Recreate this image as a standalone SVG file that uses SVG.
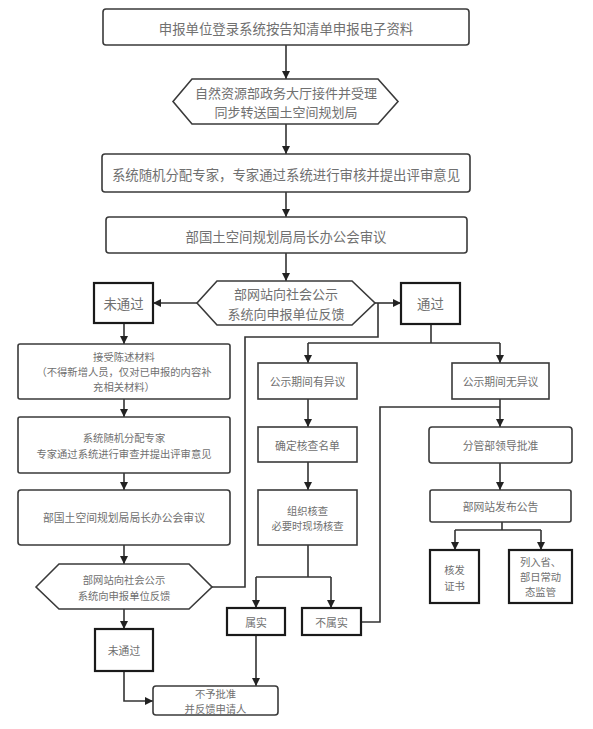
<svg xmlns="http://www.w3.org/2000/svg" width="593" height="729" viewBox="0 0 593 729">
<style>
.b{fill:#fff;stroke:#3a3a3a;stroke-width:1.6}
.k{fill:#fff;stroke:#1a1a1a;stroke-width:2.2}
.t{font-family:"Noto Sans CJK SC","Noto Sans",sans-serif;fill:#707070;text-anchor:middle;dominant-baseline:central}
.m{font-size:13.4px}
.h{font-size:13px}
.s{font-size:10.8px}
.r{font-size:10.3px}
.c{fill:none;stroke:#333;stroke-width:1.6}
</style>
<defs>
<marker id="a" viewBox="0 0 10 10" refX="10" refY="5" markerWidth="8" markerHeight="8" markerUnits="userSpaceOnUse" orient="auto"><path d="M0,0L10,5L0,10z" fill="#222"/></marker>
</defs>
<rect width="593" height="729" fill="#fff"/>
<g id="connectors">
<path class="c" d="M286,45V79" marker-end="url(#a)"/>
<path class="c" d="M286,124V154" marker-end="url(#a)"/>
<path class="c" d="M286,192V217" marker-end="url(#a)"/>
<path class="c" d="M286,253V281" marker-end="url(#a)"/>
<path class="c" d="M197,303H153" marker-end="url(#a)"/>
<path class="c" d="M375,303H401" marker-end="url(#a)"/>
<path class="c" d="M124,323V344" marker-end="url(#a)"/>
<path class="c" d="M124,399V417" marker-end="url(#a)"/>
<path class="c" d="M124,473V490" marker-end="url(#a)"/>
<path class="c" d="M124,545V564" marker-end="url(#a)"/>
<path class="c" d="M124,609V629" marker-end="url(#a)"/>
<path class="c" d="M124,671V701H153" marker-end="url(#a)"/>
<path class="c" d="M212,587H245V337H378V303"/>
<path class="c" d="M431,324V343"/>
<path class="c" d="M308,343H500"/>
<path class="c" d="M308,343V363" marker-end="url(#a)"/>
<path class="c" d="M500,343V363" marker-end="url(#a)"/>
<path class="c" d="M308,399V427" marker-end="url(#a)"/>
<path class="c" d="M308,462V490" marker-end="url(#a)"/>
<path class="c" d="M308,545V577"/>
<path class="c" d="M256,577H331"/>
<path class="c" d="M256,577V608" marker-end="url(#a)"/>
<path class="c" d="M331,577V608" marker-end="url(#a)"/>
<path class="c" d="M256,635V686" marker-end="url(#a)"/>
<path class="c" d="M361,622H380V407H500"/>
<path class="c" d="M500,399V427" marker-end="url(#a)"/>
<path class="c" d="M500,463V490" marker-end="url(#a)"/>
<path class="c" d="M502,522V530"/>
<path class="c" d="M455,530H541"/>
<path class="c" d="M455,530V550" marker-end="url(#a)"/>
<path class="c" d="M541,530V550" marker-end="url(#a)"/>
</g>
<g id="n1"><rect class="b" x="103" y="9" width="366" height="36" rx="3"/><text class="t m" x="286" y="28">申报单位登录系统按告知清单申报电子资料</text></g>
<g id="n2"><polygon class="b" points="173,101.5 192,79 378,79 398,101.5 378,124 192,124"/><text class="t h" x="286" y="92">自然资源部政务大厅接件并受理</text><text class="t h" x="286" y="111.5">同步转送国土空间规划局</text></g>
<g id="n3"><rect class="b" x="102" y="154" width="368" height="38" rx="3"/><text class="t m" x="286" y="174">系统随机分配专家，专家通过系统进行审核并提出评审意见</text></g>
<g id="n4"><rect class="b" x="106" y="217" width="361" height="36" rx="3"/><text class="t m" x="286" y="236">部国土空间规划局局长办公会审议</text></g>
<g id="n5"><polygon class="b" points="197,303 217,281 352,281 375,303 352,325 217,325"/><text class="t h" x="286" y="293.5">部网站向社会公示</text><text class="t h" x="286" y="313">系统向申报单位反馈</text></g>
<g id="n6"><rect class="k" x="94" y="283" width="59" height="40"/><text class="t m" x="123.5" y="303">未通过</text></g>
<g id="n7"><rect class="k" x="401" y="283" width="59" height="41"/><text class="t m" x="430.5" y="303">通过</text></g>
<g id="n8"><rect class="b" x="18" y="344" width="212" height="55" rx="2"/><text class="t r" x="124" y="356">接受陈述材料</text><text class="t r" x="124" y="371.3">（不得新增人员，仅对已申报的内容补</text><text class="t r" x="124" y="386.6">充相关材料）</text></g>
<g id="n9"><rect class="b" x="18" y="417" width="212" height="56" rx="2"/><text class="t r" x="124" y="437.5">系统随机分配专家</text><text class="t r" x="124" y="453">专家通过系统进行审查并提出评审意见</text></g>
<g id="n10"><rect class="b" x="18" y="490" width="212" height="55" rx="3"/><text class="t s" x="124" y="517">部国土空间规划局局长办公会审议</text></g>
<g id="n11"><polygon class="b" points="36,587 59,564 189,564 212,587 189,609 59,609"/><text class="t r" x="124" y="579.5">部网站向社会公示</text><text class="t r" x="124" y="595">系统向申报单位反馈</text></g>
<g id="n12"><rect class="k" x="95" y="629" width="58" height="42"/><text class="t s" x="124" y="650">未通过</text></g>
<g id="n13"><rect class="b" x="153" y="686" width="125" height="29" rx="3"/><text class="t r" x="215.5" y="693">不予批准</text><text class="t r" x="215.5" y="708.2">并反馈申请人</text></g>
<g id="n14"><rect class="b" x="258" y="363" width="99" height="36"/><text class="t s" x="307.5" y="381">公示期间有异议</text></g>
<g id="n15"><rect class="b" x="258" y="427" width="99" height="35"/><text class="t s" x="307.5" y="445">确定核查名单</text></g>
<g id="n16"><rect class="b" x="258" y="490" width="99" height="55"/><text class="t r" x="307.5" y="510.5">组织核查</text><text class="t r" x="307.5" y="525.8">必要时现场核查</text></g>
<g id="n17"><rect class="k" x="227" y="608" width="58" height="27"/><text class="t s" x="256" y="622">属实</text></g>
<g id="n18"><rect class="k" x="302" y="608" width="59" height="27"/><text class="t s" x="331.5" y="622">不属实</text></g>
<g id="n19"><rect class="b" x="452" y="363" width="97" height="36"/><text class="t s" x="500.5" y="381">公示期间无异议</text></g>
<g id="n20"><rect class="b" x="429" y="427" width="143" height="36" rx="3"/><text class="t s" x="500.5" y="445">分管部领导批准</text></g>
<g id="n21"><rect class="b" x="430" y="490" width="141" height="32" rx="2"/><text class="t s" x="500.5" y="506">部网站发布公告</text></g>
<g id="n22"><rect class="k" x="430" y="550" width="49" height="53"/><text class="t r" x="454.5" y="569.5">核发</text><text class="t r" x="454.5" y="585">证书</text></g>
<g id="n23"><rect class="k" x="509" y="550" width="63" height="53"/><text class="t r" x="540.5" y="561">列入省、</text><text class="t r" x="540.5" y="576.3">部日常动</text><text class="t r" x="540.5" y="591.6">态监管</text></g>
</svg>
